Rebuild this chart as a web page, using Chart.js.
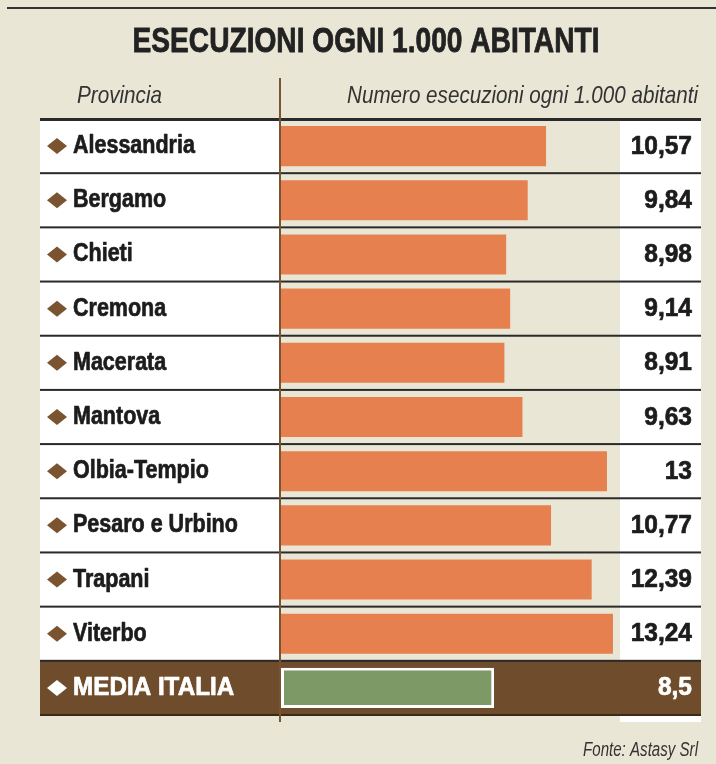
<!DOCTYPE html>
<html><head><meta charset="utf-8">
<script src="https://cdn.jsdelivr.net/npm/chart.js@4.4.1/dist/chart.umd.min.js"></script>
<style>html,body{margin:0;padding:0;background:#EAE6D6;}canvas{display:block}</style>
</head><body>
<div style="width:716px;height:764px"><canvas id="c" width="716" height="764"></canvas></div>
<script>
const categories = ['Alessandria','Bergamo','Chieti','Cremona','Macerata','Mantova','Olbia-Tempio','Pesaro e Urbino','Trapani','Viterbo','MEDIA ITALIA'];
const values = [10.57, 9.84, 8.98, 9.14, 8.91, 9.63, 13, 10.77, 12.39, 13.24, 8.5];
const valueLabels = values.map(v => String(v).replace('.', ','));
const titleText = 'ESECUZIONI OGNI 1.000 ABITANTI';
const headerLeft = 'Provincia';
const headerRight = 'Numero esecuzioni ogni 1.000 abitanti';
const sourceText = 'Fonte: Astasy Srl';

const C = {
  bg: '#EAE6D6', white: '#FFFFFF', line: '#2A2A2A', brown: '#6F4C2B',
  axis: '#7A5430', orange: '#E6814F', green: '#7D9966', text: '#1C1C1C'
};
const FONT = '"Liberation Sans", Arial, sans-serif';

function txt(ctx, s, x, y, font, align, sx, color, stroke) {
  ctx.save();
  ctx.font = font;
  ctx.fillStyle = color;
  ctx.textAlign = align;
  ctx.textBaseline = 'alphabetic';
  ctx.translate(x, y);
  ctx.scale(sx, 1);
  ctx.fillText(s, 0, 0);
  if (stroke) {
    ctx.strokeStyle = color; ctx.lineWidth = stroke; ctx.lineJoin = 'round';
    ctx.strokeText(s, 0, 0);
  }
  ctx.restore();
}
function fitScale(ctx, s, font, w) {
  ctx.save(); ctx.font = font; const m = ctx.measureText(s).width; ctx.restore();
  return w / m;
}
function diamond(ctx, cx, cy, hw, hh, color) {
  ctx.save(); ctx.fillStyle = color; ctx.beginPath();
  ctx.moveTo(cx, cy - hh); ctx.lineTo(cx + hw, cy); ctx.lineTo(cx, cy + hh); ctx.lineTo(cx - hw, cy);
  ctx.closePath(); ctx.fill(); ctx.restore();
}
function rows(chart) {
  const y = chart.scales.y;
  const band = y.getPixelForValue(1) - y.getPixelForValue(0);
  return categories.map((c, i) => {
    const cy = y.getPixelForValue(i);
    return { cy, top: cy - band / 2, bottom: cy + band / 2 };
  });
}

const tablePlugin = {
  id: 'table',
  beforeDraw(chart) {
    const ctx = chart.ctx;
    const r = rows(chart);
    const last = r[r.length - 1];
    ctx.save();
    ctx.fillStyle = C.bg; ctx.fillRect(0, 0, 716, 764);
    ctx.fillStyle = '#333'; ctx.fillRect(7, 7, 709, 2);
    const tf = 'bold 35px ' + FONT;
    txt(ctx, titleText, 366, 52, tf, 'center', fitScale(ctx, titleText, tf, 467), '#222', 0.8);
    const hf = 'italic 24px ' + FONT;
    txt(ctx, headerLeft, 77, 103, hf, 'left', fitScale(ctx, headerLeft, hf, 85), '#333');
    txt(ctx, headerRight, 698, 103, hf, 'right', fitScale(ctx, headerRight, hf, 351), '#333');
    ctx.fillStyle = C.white;
    ctx.fillRect(40, r[0].top, 239, last.top - r[0].top);
    ctx.fillRect(620, r[0].top, 81, last.bottom + 7 - r[0].top);
    ctx.fillStyle = C.brown;
    ctx.fillRect(40, last.top, 661, last.bottom - last.top);
    ctx.fillStyle = '#3B2A18';
    ctx.fillRect(40, last.bottom - 1, 661, 2);
    ctx.fillStyle = C.line;
    r.forEach((row, i) => {
      const h = i === 0 ? 3 : 2;
      ctx.fillRect(40, row.top - 1, 661, h);
    });
    ctx.restore();
  },
  afterDatasetsDraw(chart) {
    const ctx = chart.ctx;
    const r = rows(chart);
    ctx.save();
    ctx.fillStyle = C.axis;
    ctx.fillRect(279, 78, 2, 722 - 78);
    const lf = 'bold 25px ' + FONT;
    r.forEach((row, i) => {
      const isMedia = i === r.length - 1;
      const col = isMedia ? C.white : C.text;
      diamond(ctx, 57, row.cy, 10, 8, isMedia ? C.white : C.axis);
      txt(ctx, categories[i], 73, row.cy + 7, lf, 'left', isMedia ? 0.97 : 0.86, col, 0.7);
      txt(ctx, valueLabels[i], 692, row.cy + 7.5, lf, 'right', 0.98, col, 0.7);
    });
    const ff = 'italic 20px ' + FONT;
    txt(ctx, sourceText, 698, 756, ff, 'right', fitScale(ctx, sourceText, ff, 115), '#333');
    ctx.restore();
  }
};

new Chart(document.getElementById('c'), {
  type: 'bar',
  data: {
    labels: categories,
    datasets: [{
      data: values,
      backgroundColor: values.map((v, i) => i === values.length - 1 ? C.green : C.orange),
      borderColor: C.white,
      borderWidth: values.map((v, i) => i === values.length - 1 ? 3 : 0),
      borderSkipped: false,
      barPercentage: 0.74,
      categoryPercentage: 1
    }]
  },
  options: {
    indexAxis: 'y',
    responsive: false,
    animation: false,
    devicePixelRatio: 1,
    layout: { padding: { left: 281, right: 96.5, top: 119, bottom: 49 } },
    scales: {
      x: { type: 'linear', min: 0, max: 13.5, display: false },
      y: { type: 'category', display: false }
    },
    plugins: { legend: { display: false }, tooltip: { enabled: false } }
  },
  plugins: [tablePlugin]
});
</script>
</body></html>
